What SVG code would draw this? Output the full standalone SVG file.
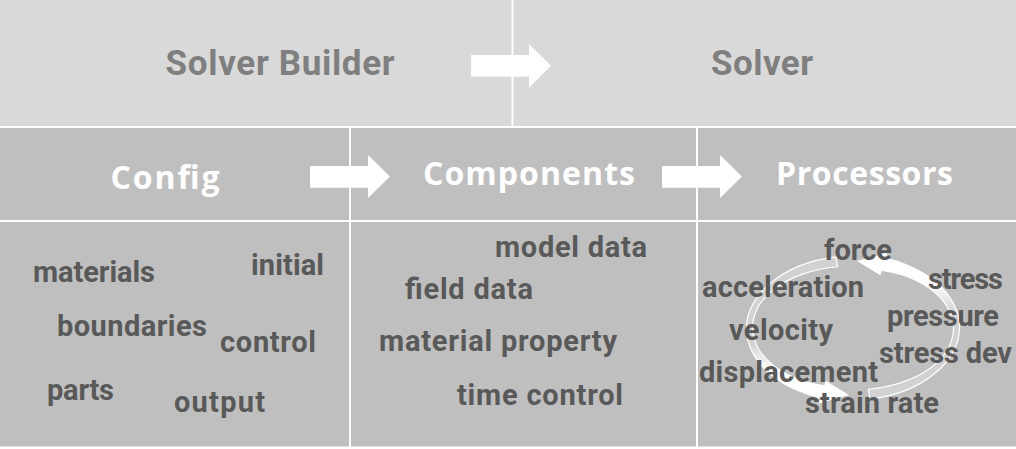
<svg xmlns="http://www.w3.org/2000/svg" width="1016" height="449" viewBox="0 0 1016 449">
<style>
.top{fill:#d9d9d9}
.mid{fill:#bfbfbf}
.t1{font-family:Roboto,"Open Sans","Liberation Sans",sans-serif;font-weight:bold;font-size:35px;fill:#7f7f7f}
.t2{font-family:"Open Sans","Liberation Sans",sans-serif;font-weight:bold;font-size:32px;fill:#ffffff}
.t3{font-family:Roboto,"Open Sans","Liberation Sans",sans-serif;font-weight:bold;font-size:29px;fill:#595959}
.blk{fill:#ffffff}
.cyc{fill:url(#cg);stroke:#ffffff;stroke-width:1.2}
</style>
<defs>
<linearGradient id="cg" gradientUnits="userSpaceOnUse" x1="0" y1="260" x2="0" y2="385">
<stop offset="0" stop-color="#ffffff" stop-opacity="0.3"/>
<stop offset="0.66" stop-color="#ffffff" stop-opacity="0.3"/>
<stop offset="0.9" stop-color="#ffffff" stop-opacity="1"/>
<stop offset="1" stop-color="#ffffff" stop-opacity="1"/>
</linearGradient>
</defs>
<rect x="0" y="0" width="1016" height="449" fill="#ffffff"/>
<g id="cells">
<rect class="top" x="0" y="0" width="511.5" height="126"/>
<rect class="top" x="513.5" y="0" width="502.5" height="126"/>
<rect class="mid" x="0" y="128" width="349" height="92"/>
<rect class="mid" x="351" y="128" width="345" height="92"/>
<rect class="mid" x="698" y="128" width="318" height="92"/>
<rect class="mid" x="0" y="222" width="349" height="224.5"/>
<rect class="mid" x="351" y="222" width="345" height="224.5"/>
<rect class="mid" x="698" y="222" width="318" height="224.5"/>
</g>
<g id="connectors">
<polygon class="blk" points="471,55 529,55 529,44 551,65.7 529,87.7 529,76.7 471,76.7"/>
<polygon class="blk" points="310,166 368,166 368,155 390,176.5 368,198 368,187.7 310,187.7"/>
<polygon class="blk" points="662,166 720,166 720,155 742,176.5 720,198 720,187.7 662,187.7"/>
<g id="cycle">
<path id="cycA" class="cyc" d="M 836.03,256.89 A 107,71 0 0 0 799,266.08 A 106,70 0 0 0 771.04,282.68 A 105,70 0 0 0 752.92,304.06 A 106.5,70 0 0 0 746.5,328 A 106.5,70 0 0 0 752.45,352.11 A 107,71 0 0 0 770.27,373.96 A 108,72 0 0 0 798.5,390.79 A 109,73 0 0 0 820.84,398.29 L 819.52,402.59 L 847.59,394.91 L 825.95,381.55 L 824.64,385.86 A 97.5,61 0 0 1 804,381.26 A 98.5,62 0 0 1 777.17,368.18 A 99.5,63 0 0 1 759.03,349.72 A 100.5,64 0 0 1 752.5,328 A 100.5,64 0 0 1 758.56,306.11 A 100,64 0 0 1 776.4,287.18 A 99.5,63 0 0 1 803.5,273.87 A 98.5,62 0 0 1 837.59,266.76 Z"/>
<path id="cycB" class="cyc" transform="rotate(180 853 328)" d="M 836.03,256.89 A 107,71 0 0 0 799,266.08 A 106,70 0 0 0 771.04,282.68 A 105,70 0 0 0 752.92,304.06 A 106.5,70 0 0 0 746.5,328 A 106.5,70 0 0 0 752.45,352.11 A 107,71 0 0 0 770.27,373.96 A 108,72 0 0 0 798.5,390.79 A 109,73 0 0 0 820.84,398.29 L 819.52,402.59 L 847.59,394.91 L 825.95,381.55 L 824.64,385.86 A 97.5,61 0 0 1 804,381.26 A 98.5,62 0 0 1 777.17,368.18 A 99.5,63 0 0 1 759.03,349.72 A 100.5,64 0 0 1 752.5,328 A 100.5,64 0 0 1 758.56,306.11 A 100,64 0 0 1 776.4,287.18 A 99.5,63 0 0 1 803.5,273.87 A 98.5,62 0 0 1 837.59,266.76 Z"/>
</g>
</g>
<g id="solver-builder"><text class="t1" x="165.6" y="75" textLength="229">Solver Builder</text></g>
<g id="solver"><text class="t1" x="711" y="75" textLength="102">Solver</text></g>
<g id="config"><text class="t2" x="110.5" y="189" textLength="109">Config</text></g>
<g id="components"><text class="t2" x="423" y="185" textLength="212">Components</text></g>
<g id="processors"><text class="t2" x="776" y="185" textLength="177">Processors</text></g>
<g id="config-items">
<text class="t3" x="33" y="282" textLength="122">materials</text>
<text class="t3" x="251" y="275" textLength="73">initial</text>
<text class="t3" x="57" y="336" textLength="150">boundaries</text>
<text class="t3" x="220" y="352" textLength="96">control</text>
<text class="t3" x="47" y="400" textLength="67">parts</text>
<text class="t3" x="174" y="412" textLength="91">output</text>
</g>
<g id="component-items">
<text class="t3" x="495" y="257" textLength="152">model data</text>
<text class="t3" x="405" y="299" textLength="128">field data</text>
<text class="t3" x="379" y="351" textLength="238">material property</text>
<text class="t3" x="457" y="405" textLength="166">time control</text>
</g>
<g id="processor-items">
<text class="t3" x="824" y="260" textLength="68">force</text>
<text class="t3" x="928" y="289" textLength="75">stress</text>
<text class="t3" x="702" y="297" textLength="162">acceleration</text>
<text class="t3" x="887" y="326" textLength="112">pressure</text>
<text class="t3" x="729" y="340" textLength="104">velocity</text>
<text class="t3" x="879" y="363" textLength="133">stress dev</text>
<text class="t3" x="699" y="382" textLength="179">displacement</text>
<text class="t3" x="805" y="413" textLength="134">strain rate</text>
</g>
</svg>
